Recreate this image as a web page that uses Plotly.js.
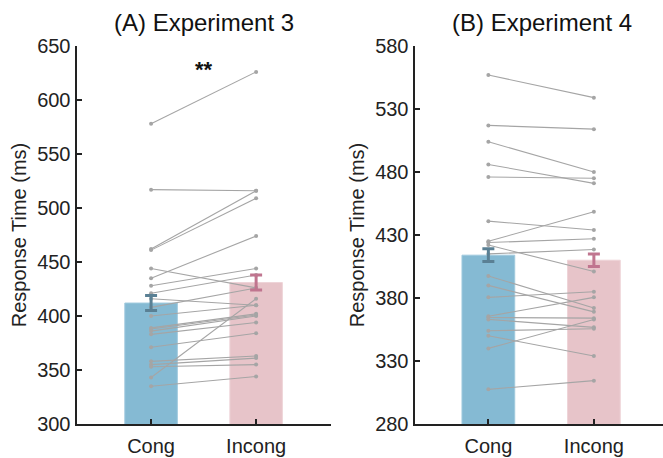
<!DOCTYPE html>
<html>
<head>
<meta charset="utf-8">
<script src="https://cdn.plot.ly/plotly-3.0.1.min.js"></script>
<style>html,body{margin:0;padding:0;background:#fff;}#chart{width:663px;height:458px;}</style>
</head>
<body>
<div id="chart"></div>
<script>
// ---- data ----
const categories = ['Cong', 'Incong'];

// Experiment 3 (panel A), per-subject RTs
const exp3Cong   = [578, 517, 462, 461, 444, 435, 428, 421, 416, 408, 400, 389, 388, 386, 383, 371, 358, 355, 353, 343, 335];
const exp3Incong = [626, 516, 516, 509, 426, 474, 444, 438, 410, 426, 410, 402, 401, 400, 394, 384, 363, 361, 355, 416, 344];
const exp3Means  = [412, 431];
const exp3SE     = [7, 7];

// Experiment 4 (panel B), per-subject RTs
const exp4Cong   = [557, 517, 504, 486, 476, 441, 425, 424, 422, 415, 397.5, 390, 380.5, 365.5, 364.5, 363, 354, 350, 340, 307.5];
const exp4Incong = [539, 514, 480, 471, 475, 434, 448.5, 427, 401, 418.5, 372, 369, 385, 380.5, 364, 356.7, 355.6, 334, 363, 314.4];
const exp4Means  = [414, 410];
const exp4SE     = [5, 5];

const panelTitles = ['(A) Experiment 3', '(B) Experiment 4'];
const yTitle = 'Response Time (ms)';
const sigLabel = '**';

// ---- styles ----
const barColors = ['rgb(133,186,211)', 'rgb(231,196,201)'];
const barEdge = ['rgb(160,202,222)', 'rgb(238,212,216)'];
const errColors = ['rgb(90,128,148)', 'rgb(192,117,143)'];
const lineGrey = 'rgb(165,165,165)';
const FONT = 'Liberation Sans, Arial, sans-serif';

function pairedTrace(cong, incong, xa, ya) {
  const xs = [], ys = [];
  for (let i = 0; i < cong.length; i++) {
    xs.push(categories[0], categories[1], null);
    ys.push(cong[i], incong[i], null);
  }
  return {
    type: 'scatter', mode: 'lines+markers', x: xs, y: ys,
    xaxis: xa, yaxis: ya, connectgaps: false,
    line: {color: lineGrey, width: 1.1},
    marker: {color: lineGrey, size: 4},
    hoverinfo: 'skip', showlegend: false
  };
}
function barTrace(means, xa, ya) {
  return {
    type: 'bar', x: categories, y: means, xaxis: xa, yaxis: ya,
    width: 0.5,
    marker: {color: barColors, line: {color: barEdge, width: 1}},
    showlegend: false, hoverinfo: 'skip'
  };
}
function errTraces(means, se, xa, ya) {
  return categories.map((c, i) => ({
    type: 'scatter', mode: 'markers', x: [c], y: [means[i]], xaxis: xa, yaxis: ya,
    marker: {color: 'rgba(0,0,0,0)', size: 1},
    error_y: {type: 'data', array: [se[i]], visible: true, color: errColors[i], thickness: 3, width: 6},
    showlegend: false, hoverinfo: 'skip'
  }));
}

const data = [
  barTrace(exp3Means, 'x', 'y'),
  pairedTrace(exp3Cong, exp3Incong, 'x', 'y'),
  ...errTraces(exp3Means, exp3SE, 'x', 'y'),
  barTrace(exp4Means, 'x2', 'y2'),
  pairedTrace(exp4Cong, exp4Incong, 'x2', 'y2'),
  ...errTraces(exp4Means, exp4SE, 'x2', 'y2')
];

const axisCommon = {
  showline: true, linecolor: '#222', linewidth: 2,
  ticks: 'inside', ticklen: 5, tickwidth: 2, tickcolor: '#222',
  showgrid: false, zeroline: false,
  tickfont: {family: FONT, size: 20, color: '#222'}
};

const dom1 = [76.5 / 663, 330.7 / 663];
const dom2 = [414.5 / 663, 1];

const layout = {
  width: 663, height: 458,
  margin: {l: 0, r: 0, t: 46, b: 34},
  paper_bgcolor: '#fff', plot_bgcolor: '#fff',
  barmode: 'overlay',
  xaxis: Object.assign({}, axisCommon, {domain: dom1, anchor: 'y', type: 'category', range: [-0.71, 1.71], ticklabelstandoff: 3}),
  yaxis: Object.assign({}, axisCommon, {domain: [0, 1], anchor: 'x', range: [300, 650], tick0: 300, dtick: 50,
    title: {text: yTitle, font: {family: FONT, size: 20, color: '#222'}, standoff: 5}}),
  xaxis2: Object.assign({}, axisCommon, {domain: dom2, anchor: 'y2', type: 'category', range: [-0.70, 1.655], ticklabelstandoff: 3}),
  yaxis2: Object.assign({}, axisCommon, {domain: [0, 1], anchor: 'x2', range: [280, 580], tick0: 280, dtick: 50,
    title: {text: yTitle, font: {family: FONT, size: 20, color: '#222'}, standoff: 5}}),
  annotations: [
    {text: panelTitles[0], xref: 'paper', yref: 'paper', x: (dom1[0] + dom1[1]) / 2, y: 1 + 24 / 378,
     xanchor: 'center', yanchor: 'middle', showarrow: false, font: {family: FONT, size: 24, color: '#111'}},
    {text: panelTitles[1], xref: 'paper', yref: 'paper', x: (414.5 + 669) / 2 / 663, y: 1 + 24 / 378,
     xanchor: 'center', yanchor: 'middle', showarrow: false, font: {family: FONT, size: 24, color: '#111'}},
    {text: sigLabel, xref: 'x', yref: 'y', x: 0.5, y: 628, xanchor: 'center', yanchor: 'middle',
     showarrow: false, font: {family: FONT, size: 22, color: '#111', weight: 'bold'}}
  ]
};

Plotly.newPlot('chart', data, layout, {staticPlot: true, displayModeBar: false});
</script>
</body>
</html>
